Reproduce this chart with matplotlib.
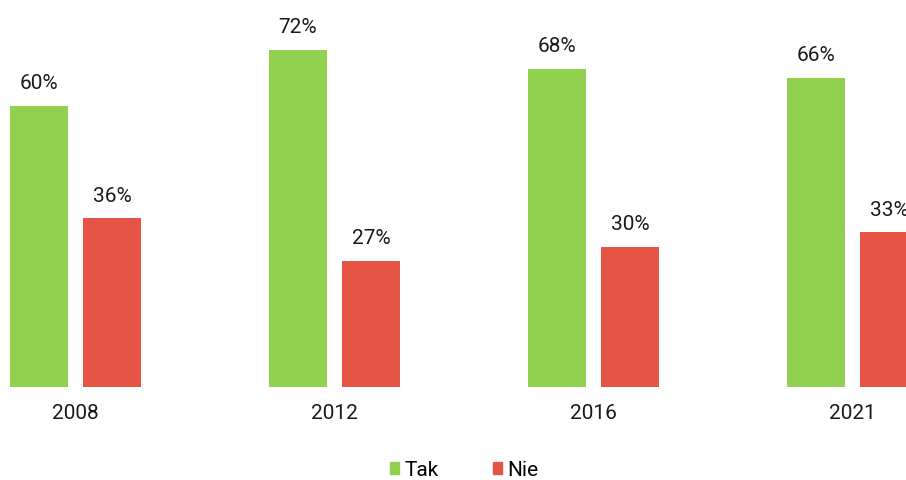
import matplotlib
matplotlib.use("Agg")
import matplotlib.pyplot as plt
from matplotlib.patches import Patch
import numpy as np

years = ["2008", "2012", "2016", "2021"]
tak = [60, 72, 68, 66]
nie = [36, 27, 30, 33]

GREEN = "#92D050"
RED = "#E55445"

plt.rcParams["font.family"] = ["Roboto", "DejaVu Sans"]

fig = plt.figure(figsize=(9.06, 4.8), dpi=100)
ax = fig.add_axes([0, 93 / 480, 1, 387 / 480])

x = np.arange(len(years))
w = 58 / 259
off = 36.5 / 259
b1 = ax.bar(x - off, tak, w, color=GREEN)
b2 = ax.bar(x + off, nie, w, color=RED)

# value labels (the last one is clipped by the right edge, as in the source)
for bars, vals in ((b1, tak), (b2, nie)):
    for bar, v in zip(bars, vals):
        ax.annotate(f"{v}%", (bar.get_x() + bar.get_width() / 2, v),
                    xytext=(0, 12), textcoords="offset points",
                    ha="center", va="baseline", fontsize=15, color="#1a1a1a")

ax.set_xlim(-75.5 / 259, 830.5 / 259)
ax.set_ylim(0, 387 / 4.683)
ax.set_xticks(x)
ax.set_xticklabels(years, fontsize=15, color="#1a1a1a")
ax.tick_params(axis="x", length=0, pad=12.5)
ax.set_yticks([])
for s in ax.spines.values():
    s.set_visible(False)

handles = [Patch(color=GREEN, label="Tak"), Patch(color=RED, label="Nie")]
fig.legend(handles=handles, loc="center", bbox_to_anchor=(464 / 906, 1 - 470 / 480),
           ncol=2, frameon=False, fontsize=15, handlelength=0.45, handleheight=0.45,
           handletextpad=0.25, columnspacing=2.6)

fig.savefig("out.png", dpi=100)
